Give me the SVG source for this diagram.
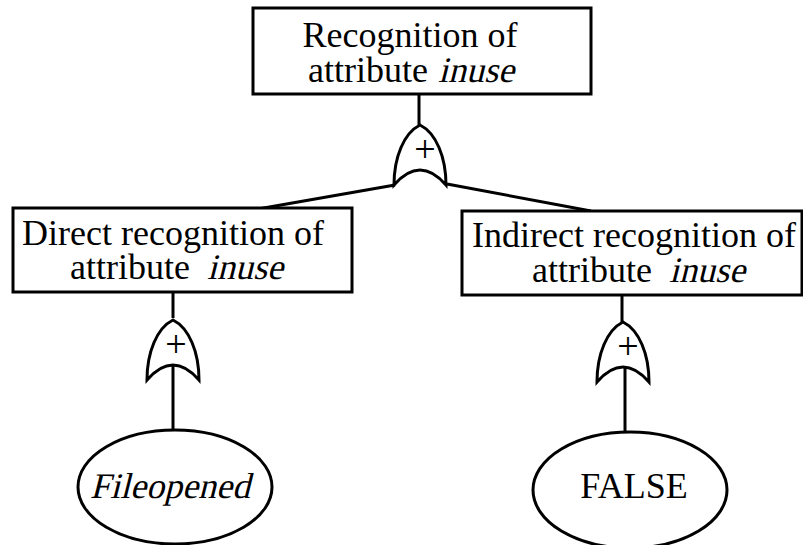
<svg xmlns="http://www.w3.org/2000/svg" width="803" height="545" viewBox="0 0 803 545">
  <style>
    .box { fill: #fff; stroke: #000; stroke-width: 3; }
    .ell { fill: #fff; stroke: #000; stroke-width: 3; }
    .gate { fill: #fff; stroke: #000; stroke-width: 3; stroke-linejoin: miter; }
    .wire { fill: none; stroke: #000; stroke-width: 3; }
    .lbl { font-family: "Liberation Serif", "Times New Roman", serif; font-size: 36px; fill: #000; text-anchor: middle; }
    .st { text-anchor: start; }
    .en { text-anchor: end; }
    .plus { font-family: "Liberation Serif", "Times New Roman", serif; font-size: 38px; fill: #000; text-anchor: middle; }
  </style>
  <defs>
    <!-- OR gate: apex at origin, base corners at (-26,60) and (26,60) -->
    <path id="or-gate" class="gate" d="M -26 60 C -26 32 -16 8 0 0 C 16 8 26 32 26 60 Q 0 30 -26 60 Z"/>
  </defs>
  <rect width="803" height="545" fill="#fff"/>

  <g id="connectors">
    <line class="wire" x1="419" y1="94" x2="419" y2="125"/>
    <line class="wire" x1="395" y1="185" x2="258" y2="209"/>
    <line class="wire" x1="447" y1="184" x2="591" y2="211"/>
    <line class="wire" x1="173" y1="292" x2="173" y2="318"/>
    <line class="wire" x1="173" y1="362" x2="173" y2="431"/>
    <line class="wire" x1="622" y1="295" x2="622" y2="322"/>
    <line class="wire" x1="625" y1="365" x2="625" y2="433"/>
  </g>

  <g id="root">
    <rect class="box" x="253" y="8" width="338" height="86"/>
    <text class="lbl" x="410" y="47">Recognition of</text>
    <text class="lbl st" x="308" y="82">attribute</text>
    <!-- slanted word -->
    <text class="lbl en" transform="translate(514 82) skewX(-14)">inuse</text>
  </g>

  <g id="gate-root">
    <use href="#or-gate" x="420" y="125"/>
    <text class="plus" x="425" y="162">+</text>
  </g>

  <g id="direct">
    <rect class="box" x="13" y="208" width="339" height="84"/>
    <text class="lbl" x="173" y="245">Direct recognition of</text>
    <text class="lbl st" x="70" y="279">attribute</text>
    <text class="lbl en" transform="translate(283 279) skewX(-14)">inuse</text>
  </g>

  <g id="gate-direct">
    <use href="#or-gate" x="173" y="320"/>
    <text class="plus" x="176" y="357">+</text>
  </g>

  <g id="indirect">
    <rect class="box" x="462" y="211" width="340" height="84"/>
    <text class="lbl" x="634" y="247">Indirect recognition of</text>
    <text class="lbl st" x="532" y="282">attribute</text>
    <text class="lbl en" transform="translate(745 282) skewX(-14)">inuse</text>
  </g>

  <g id="gate-indirect">
    <use href="#or-gate" x="623" y="322"/>
    <text class="plus" x="628" y="359">+</text>
  </g>

  <g id="fileopened">
    <ellipse class="ell" cx="175" cy="487" rx="97" ry="57"/>
    <text class="lbl" transform="translate(170 498) skewX(-14)">Fileopened</text>
  </g>

  <g id="false">
    <ellipse class="ell" cx="630" cy="490" rx="97" ry="58"/>
    <text class="lbl" x="634" y="498">FALSE</text>
  </g>
</svg>
